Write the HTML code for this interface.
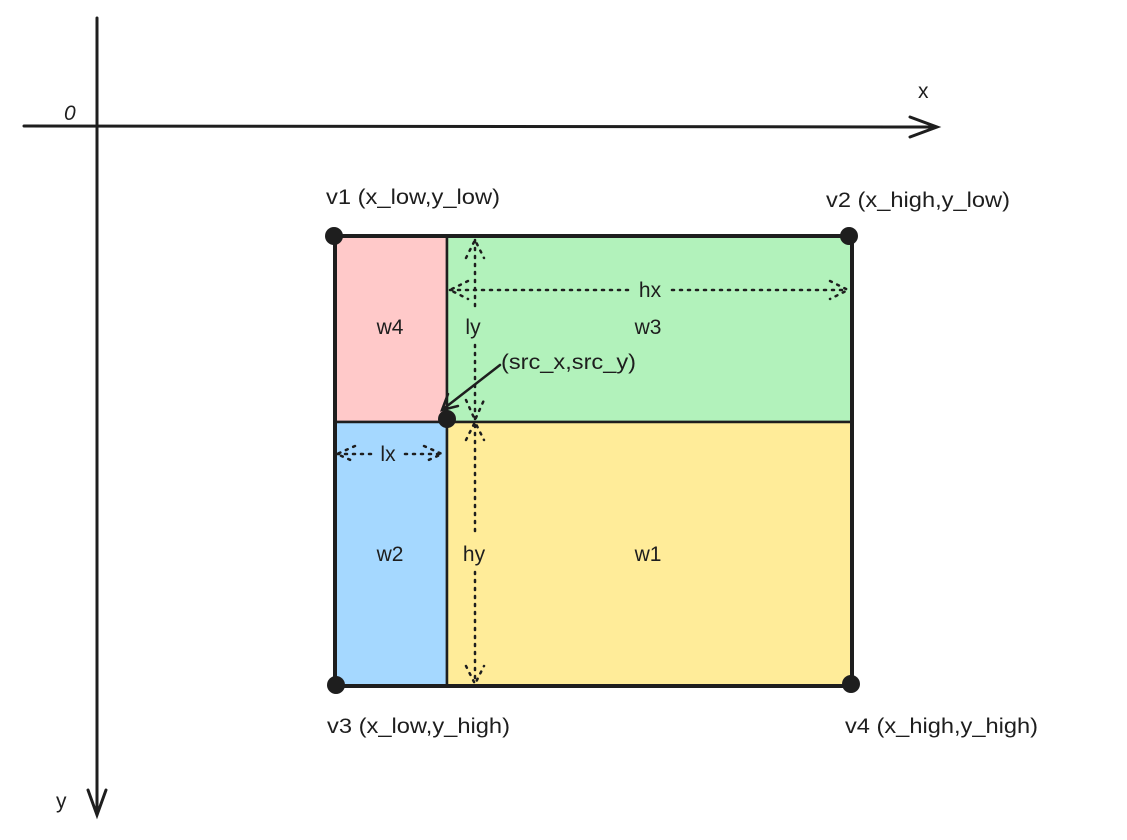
<!DOCTYPE html>
<html><head><meta charset="utf-8"><style>
html,body{margin:0;padding:0;background:#fff;}
svg{display:block;}
text{font-family:"Liberation Sans",sans-serif;fill:#1e1e1e;font-size:21px;}
</style></head><body>
<svg width="1127" height="840" viewBox="0 0 1127 840" xmlns="http://www.w3.org/2000/svg">
<g stroke="#1e1e1e" stroke-width="2.5">
<rect x="335" y="236" width="112" height="186" fill="#ffc9c9"/>
<rect x="447" y="236" width="405" height="186" fill="#b2f2bb"/>
<rect x="335" y="422" width="112" height="264" fill="#a5d8ff"/>
<rect x="447" y="422" width="405" height="264" fill="#ffec99"/>
</g>
<rect x="335" y="236" width="517" height="450" fill="none" stroke="#1e1e1e" stroke-width="4"/>
<g stroke="#1e1e1e" stroke-width="3" fill="none" stroke-linecap="round">
<path d="M97 18 L97 815 M88 790 L97 815 L106 790"/>
<path d="M24 126 L935 127 M910 117 L937 127 L910 137"/>
</g>
<text x="64" y="120" font-style="italic">0</text>
<text x="918" y="98">x</text>
<text x="56" y="808">y</text>
<g stroke="#1e1e1e" stroke-width="2.5" fill="none" stroke-dasharray="2 6" stroke-linecap="round">
<path d="M450 290 L630 290 M672 290 L848 290 M468 281 L450 290 L468 299 M830 281 L848 290 L830 299"/>
<path d="M475 240 L475 310 M475 345 L475 535 M475 572 L475 684 M466 258 L475 240 L484 258 M466 666 L475 684 L484 666 M466 400 L475 420 L484 400 M466 440 L475 422 L484 440"/>
<path d="M337 454 L372 454 M405 454 L442 454 M355 446 L337 454 L355 462 M424 446 L442 454 L424 462"/>
</g>
<path d="M500 365 L442 410 M448 394 L442 410 L458 406" stroke="#1e1e1e" stroke-width="2.5" fill="none" stroke-linecap="round"/>
<g fill="#1e1e1e">
<circle cx="334" cy="236" r="9"/>
<circle cx="849" cy="236" r="9"/>
<circle cx="336" cy="685" r="9"/>
<circle cx="851" cy="684" r="9"/>
<circle cx="447" cy="419" r="9"/>
</g>
<text x="326" y="204" textLength="174" lengthAdjust="spacingAndGlyphs">v1 (x_low,y_low)</text>
<text x="826" y="207" textLength="184" lengthAdjust="spacingAndGlyphs">v2 (x_high,y_low)</text>
<text x="327" y="733" textLength="183" lengthAdjust="spacingAndGlyphs">v3 (x_low,y_high)</text>
<text x="845" y="733" textLength="193" lengthAdjust="spacingAndGlyphs">v4 (x_high,y_high)</text>
<text x="390" y="334" text-anchor="middle">w4</text>
<text x="473" y="334" text-anchor="middle">ly</text>
<text x="648" y="334" text-anchor="middle">w3</text>
<text x="650" y="297" text-anchor="middle">hx</text>
<text x="501" y="369" textLength="135" lengthAdjust="spacingAndGlyphs">(src_x,src_y)</text>
<text x="388" y="461" text-anchor="middle">lx</text>
<text x="390" y="561" text-anchor="middle">w2</text>
<text x="474" y="561" text-anchor="middle">hy</text>
<text x="648" y="561" text-anchor="middle">w1</text>
</svg>
</body></html>
